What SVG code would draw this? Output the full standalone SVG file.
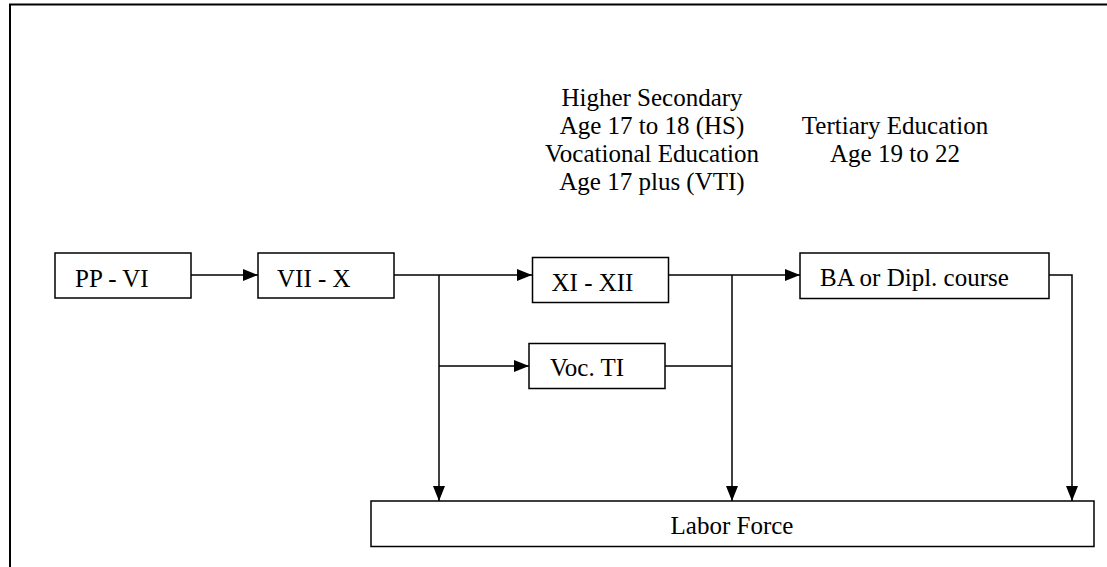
<svg xmlns="http://www.w3.org/2000/svg" width="1107" height="567" viewBox="0 0 1107 567">
  <style>
    .box { fill: #ffffff; stroke: #000000; stroke-width: 1.5; }
    .lbl { font-family: "Liberation Serif", "Times New Roman", serif; font-size: 25px; fill: #000000; }
    .lblc { font-family: "Liberation Serif", "Times New Roman", serif; font-size: 25px; fill: #000000; text-anchor: middle; }
    .conn { fill: none; stroke: #000000; stroke-width: 1.5; }
    .frame { fill: none; stroke: #000000; stroke-width: 2; }
  </style>
  <defs>
    <marker id="arr" markerUnits="userSpaceOnUse" markerWidth="15" markerHeight="12" refX="15" refY="6" orient="auto">
      <path d="M0,0 L15,6 L0,12 Z" fill="#000000"/>
    </marker>
  </defs>
  <rect width="1107" height="567" fill="#ffffff"/>
  <path class="frame" d="M10,567 L10,4.5 L1107,4.5"/>

  <g id="header-hs" font-family="Liberation Serif, serif">
    <text class="lblc" x="652" y="106">Higher Secondary</text>
    <text class="lblc" x="652" y="134">Age 17 to 18 (HS)</text>
    <text class="lblc" x="652" y="162">Vocational Education</text>
    <text class="lblc" x="652" y="190">Age 17 plus (VTI)</text>
  </g>
  <g id="header-tertiary" font-family="Liberation Serif, serif">
    <text class="lblc" x="895" y="134">Tertiary Education</text>
    <text class="lblc" x="895" y="162">Age 19 to 22</text>
  </g>

  <g id="connectors">
    <line class="conn" x1="191" y1="275" x2="258" y2="275" marker-end="url(#arr)"/>
    <line class="conn" x1="394" y1="275" x2="532" y2="275" marker-end="url(#arr)"/>
    <line class="conn" x1="439" y1="275" x2="439" y2="501" marker-end="url(#arr)"/>
    <line class="conn" x1="439" y1="366" x2="529" y2="366" marker-end="url(#arr)"/>
    <line class="conn" x1="665" y1="275" x2="800" y2="275" marker-end="url(#arr)"/>
    <line class="conn" x1="665" y1="366" x2="732" y2="366"/>
    <line class="conn" x1="732" y1="275" x2="732" y2="501" marker-end="url(#arr)"/>
    <polyline class="conn" points="1049,275 1072,275 1072,501" marker-end="url(#arr)"/>
  </g>

  <g id="node-pp-vi">
    <rect class="box" x="55" y="253" width="136" height="45"/>
    <text class="lbl" x="75" y="286.5">PP - VI</text>
  </g>
  <g id="node-vii-x">
    <rect class="box" x="258" y="253" width="136" height="45"/>
    <text class="lbl" x="277" y="286.5">VII - X</text>
  </g>
  <g id="node-xi-xii">
    <rect class="box" x="532.5" y="257.5" width="136" height="45"/>
    <text class="lbl" x="551.5" y="291">XI - XII</text>
  </g>
  <g id="node-voc-ti">
    <rect class="box" x="529" y="343.5" width="136" height="45"/>
    <text class="lbl" x="550" y="376">Voc. TI</text>
  </g>
  <g id="node-ba">
    <rect class="box" x="800" y="253" width="249" height="45.5"/>
    <text class="lbl" x="820" y="286">BA or Dipl. course</text>
  </g>
  <g id="node-labor" font-family="Liberation Serif, serif">
    <rect class="box" x="371" y="501" width="723" height="45.5"/>
    <text class="lblc" x="732" y="534">Labor Force</text>
  </g>
</svg>
